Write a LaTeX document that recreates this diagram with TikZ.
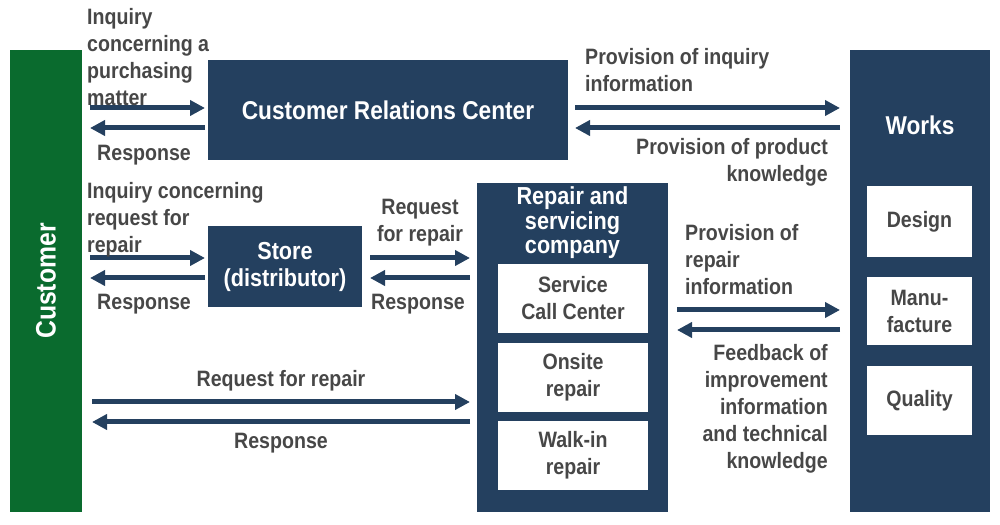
\documentclass[tikz,border=0pt]{standalone}
\usepackage{fontspec}
\setmainfont{Liberation Sans}[FakeStretch=0.88]
\usetikzlibrary{arrows.meta}
\definecolor{navy}{HTML}{24405F}
\definecolor{cgreen}{HTML}{0A6B2E}
\definecolor{txtgray}{HTML}{474747}
\tikzset{
  box/.style={fill=navy,text=white,align=center,inner sep=0pt},
  wbox/.style={fill=white,text=txtgray,align=center,inner sep=0pt},
  lbl/.style={text=txtgray,inner sep=0pt},
  flow/.style={navy,line width=1.5mm,-{Triangle[length=4.5mm,width=4.5mm]}}
}
\begin{document}
\begin{tikzpicture}[x=0.3mm,y=-0.3mm,font=\fontsize{19}{23}\selectfont\bfseries]
  \useasboundingbox (0,0) rectangle (1000,525);

  % main blocks
  \node[box,fill=cgreen,minimum width=72*0.3mm,minimum height=462*0.3mm] (cust) at (46,281) {};
  \node[rotate=90,text=white] at (cust) {\fontsize{24}{28}\selectfont Customer};
  \node[box,minimum width=360*0.3mm,minimum height=100*0.3mm] (crc) at (388,110) {\fontsize{22}{26}\selectfont Customer Relations Center};
  \node[box,minimum width=140*0.3mm,minimum height=462*0.3mm] (works) at (920,281) {};
  \node[text=white] at (920,125) {\fontsize{22}{26}\selectfont Works};
  \node[wbox,minimum width=105*0.3mm,minimum height=71*0.3mm] (design) at (919.5,222) {Design};
  \node[wbox,minimum width=105*0.3mm,minimum height=68*0.3mm] (manu) at (919.5,311) {Manu-\\facture};
  \node[wbox,minimum width=105*0.3mm,minimum height=69*0.3mm] (qual) at (919.5,401) {Quality};
  \node[box,minimum width=154*0.3mm,minimum height=81*0.3mm] (store) at (285,267) {\fontsize{21}{25}\selectfont Store\\\fontsize{21}{25}\selectfont (distributor)};
  \node[box,minimum width=191*0.3mm,minimum height=329*0.3mm] (rep) at (572.5,347.5) {};
  \node[text=white,align=center,font=\fontsize{21}{21}\selectfont\bfseries] at (572.5,223) {Repair and\\servicing\\company};
  \node[wbox,minimum width=150*0.3mm,minimum height=69*0.3mm] (scc) at (573,298.5) {Service\\Call Center};
  \node[wbox,minimum width=150*0.3mm,minimum height=69*0.3mm] (onsite) at (573,377.5) {Onsite\\repair};
  \node[wbox,minimum width=150*0.3mm,minimum height=69*0.3mm] (walk) at (573,455.5) {Walk-in\\repair};

  % arrow ends
  \coordinate (a1) at (90,108);  \coordinate (a2) at (205,108);
  \coordinate (a3) at (575,108); \coordinate (a4) at (840,108);
  \coordinate (b1) at (90,258);  \coordinate (b2) at (205,258);
  \coordinate (b3) at (370,258); \coordinate (b4) at (470,258);
  \coordinate (c1) at (677,310); \coordinate (c2) at (840,310);
  \coordinate (d1) at (92,402);  \coordinate (d2) at (470,402);

  \draw[flow] (a1) -- (a2);
  \draw[flow] ([yshift=-6mm]a2) -- ([yshift=-6mm]a1);
  \draw[flow] (a3) -- (a4);
  \draw[flow] ([yshift=-6mm]a4) -- ([yshift=-6mm]a3);
  \draw[flow] (b1) -- (b2);
  \draw[flow] ([yshift=-6mm]b2) -- ([yshift=-6mm]b1);
  \draw[flow] (b3) -- (b4);
  \draw[flow] ([yshift=-6mm]b4) -- ([yshift=-6mm]b3);
  \draw[flow] (c1) -- (c2);
  \draw[flow] ([yshift=-6mm]c2) -- ([yshift=-6mm]c1);
  \draw[flow] (d1) -- (d2);
  \draw[flow] ([yshift=-6mm]d2) -- ([yshift=-6mm]d1);

  % labels
  \node[lbl,anchor=north west,align=left] (l1) at (87,8) {Inquiry\\concerning a\\purchasing\\matter};
  \node[lbl,anchor=west] (l2) at (97,155) {Response};
  \node[lbl,anchor=north west,align=left] (l3) at (585,48) {Provision of inquiry\\information};
  \node[lbl,anchor=north east,align=right] (l4) at (828,138) {Provision of product\\knowledge};
  \node[lbl,anchor=north west,align=left] (l5) at (87,182) {Inquiry concerning\\request for\\repair};
  \node[lbl,anchor=west] (l6) at (97,304) {Response};
  \node[lbl,align=center] (l7) at (420,223) {Request\\for repair};
  \node[lbl] (l8) at (418,304) {Response};
  \node[lbl,anchor=north west,align=left] (l9) at (685,224) {Provision of\\repair\\information};
  \node[lbl,anchor=north east,align=right] (l10) at (828,344) {Feedback of\\improvement\\information\\and technical\\knowledge};
  \node[lbl] (l11) at (281,381) {Request for repair};
  \node[lbl] (l12) at (281,443) {Response};
\end{tikzpicture}
\end{document}
